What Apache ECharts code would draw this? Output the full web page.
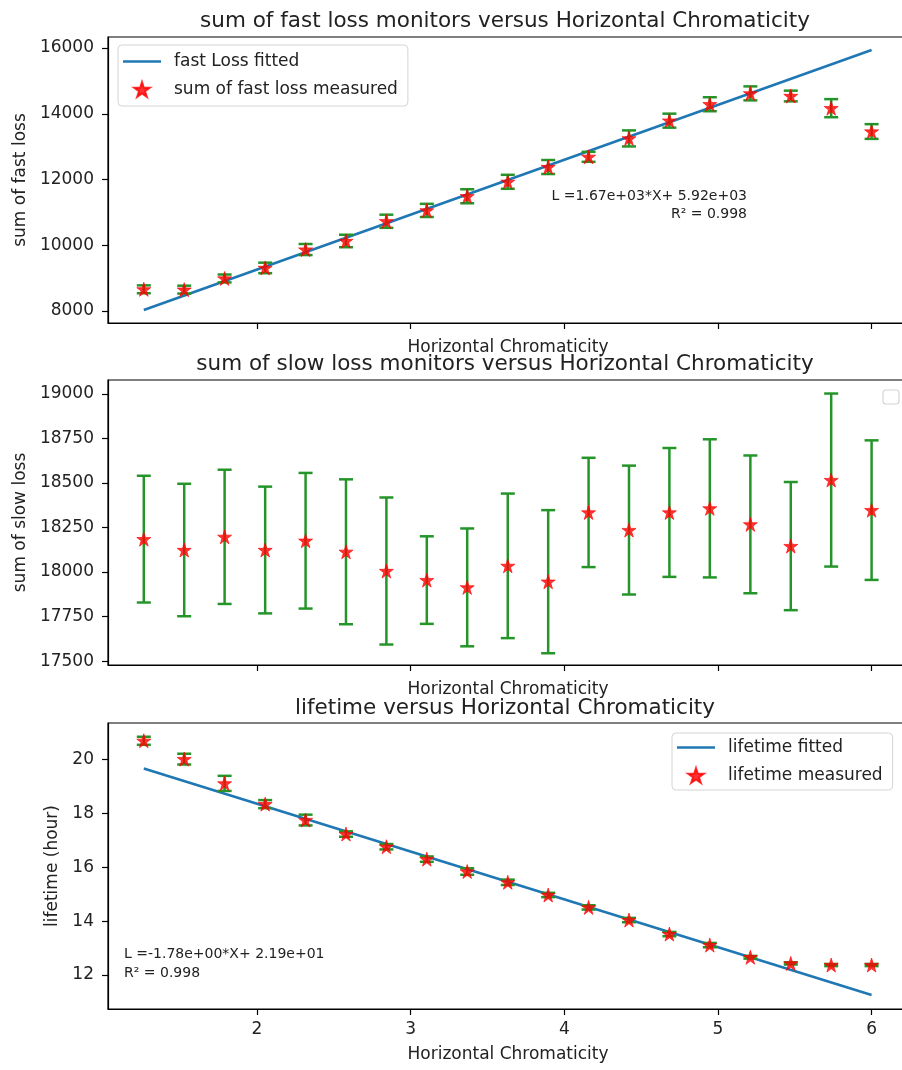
<!DOCTYPE html>
<html><head><meta charset="utf-8">
<script src="https://cdn.jsdelivr.net/npm/echarts@6/dist/echarts.min.js"></script>
<style>html,body{margin:0;padding:0;background:#fff}#c{width:902px;height:1070px}</style>
</head><body><div id="c"></div>
<script>
// ---- data ----
const chroma = [1.263,1.526,1.789,2.053,2.316,2.579,2.842,3.105,3.368,3.632,3.895,4.158,4.421,4.684,4.947,5.211,5.474,5.737,6.0];
const fastLoss    = [8660,8650,8990,9310,9870,10130,10730,11060,11490,11930,12380,12690,13250,13790,14290,14620,14540,14170,13460];
const fastLossErr = [120,120,120,160,168,190,200,200,213,213,213,152,244,213,213,213,163,275,224];
const fastFitEnds = [8030,15940];
const slowLoss    = [18185,18124,18198,18124,18176,18114,18006,17955,17914,18035,17946,18335,18236,18335,18358,18268,18146,18517,18348];
const slowLossErr = [356,372,377,356,381,407,413,246,331,406,402,307,362,362,388,387,360,486,392];
const lifetime    = [20.69,20.01,19.11,18.34,17.75,17.23,16.76,16.30,15.84,15.44,14.97,14.51,14.04,13.52,13.11,12.66,12.43,12.37,12.37];
const lifetimeErr = [0.15,0.2,0.28,0.15,0.2,0.1,0.1,0.1,0.12,0.1,0.08,0.08,0.08,0.08,0.08,0.05,0.04,0.04,0.04];
const lifetimeFitEnds = [19.66,11.26];
const xTicks = [2,3,4,5,6];
const fastTicks = [8000,10000,12000,14000,16000];
const slowTicks = [17500,17750,18000,18250,18500,18750,19000];
const lifeTicks = [12,14,16,18,20];
const titles = ['sum of fast loss monitors versus Horizontal Chromaticity','sum of slow loss monitors versus Horizontal Chromaticity','lifetime versus Horizontal Chromaticity'];
const xName = 'Horizontal Chromaticity';
const yNames = ['sum of fast loss','sum of slow loss','lifetime (hour)'];
const fitText1 = 'L =1.67e+03*X+ 5.92e+03\nR\u00b2 = 0.998';
const fitText3 = 'L =-1.78e+00*X+ 2.19e+01\nR\u00b2 = 0.998';

// ---- styling ----
const FONT = 'DejaVu Sans';
const TXT = '#222';
const BLUE = '#1f77b4';
const GREEN = '#25952a';
const STAR = 'path://M0,-1 L0.2245,-0.309 L0.951,-0.309 L0.363,0.118 L0.588,0.809 L0,0.382 L-0.588,0.809 L-0.363,0.118 L-0.951,-0.309 L-0.2245,-0.309 Z';
const LINEICON = 'path://M0,0 L40,0 L40,2.6 L0,2.6 Z';

const grids = [
  {left:108, top:37, width:800, height:286},
  {left:108, top:380, width:800, height:285},
  {left:108, top:723, width:800, height:286}
].map(g => Object.assign(g, {show:true, borderColor:'#000', borderWidth:1.2, backgroundColor:'transparent', containLabel:false, outerBoundsMode:'none'}));

function xAxis(i, showLabels, gap){
  return {
    type:'value', gridIndex:i, min:1.03, max:6.237,
    axisLine:{show:true, lineStyle:{color:'#000', width:1.2}},
    axisTick:{show:true, customValues:xTicks, length:6, lineStyle:{color:'#000', width:1.2}},
    axisLabel:{show:showLabels, customValues:xTicks, fontFamily:FONT, fontSize:17, color:TXT, margin:12,
      formatter:(v)=>String(v)},
    splitLine:{show:false},
    name:xName, nameLocation:'middle', nameGap:gap,
    nameTextStyle:{fontFamily:FONT, fontSize:17, color:TXT}
  };
}
function yAxis(i, min, max, ticks, name, gap){
  return {
    type:'value', gridIndex:i, min:min, max:max,
    axisLine:{show:true, lineStyle:{color:'#000', width:1.2}},
    axisTick:{show:true, customValues:ticks, length:6, lineStyle:{color:'#000', width:1.2}},
    axisLabel:{customValues:ticks, fontFamily:FONT, fontSize:17, color:TXT, margin:14,
      formatter:(v)=>String(v)},
    splitLine:{show:false},
    name:name, nameLocation:'middle', nameGap:gap,
    nameTextStyle:{fontFamily:FONT, fontSize:17, color:TXT}
  };
}

function errRender(params, api){
  const x = api.value(0), lo = api.value(1), hi = api.value(2);
  const a = api.coord([x, lo]), b = api.coord([x, hi]);
  const cap = 7;
  const st = {stroke:GREEN, lineWidth:2.5};
  return {type:'group', children:[
    {type:'line', shape:{x1:a[0], y1:a[1], x2:b[0], y2:b[1]}, style:st},
    {type:'line', shape:{x1:a[0]-cap, y1:a[1], x2:a[0]+cap, y2:a[1]}, style:st},
    {type:'line', shape:{x1:b[0]-cap, y1:b[1], x2:b[0]+cap, y2:b[1]}, style:st}
  ]};
}

function panelSeries(i, vals, errs, fitEnds, fitName, measName){
  const s = [];
  if (fitEnds) {
    s.push({type:'line', name:fitName, xAxisIndex:i, yAxisIndex:i,
      data:[[chroma[0], fitEnds[0]], [chroma[chroma.length-1], fitEnds[1]]],
      showSymbol:false, symbol:'none', color:BLUE, lineStyle:{color:BLUE, width:2.6}, z:2});
  }
  s.push({type:'custom', name:measName + ' error', xAxisIndex:i, yAxisIndex:i,
    renderItem:errRender, encode:{x:0, y:[1,2]}, silent:true, z:3,
    data: chroma.map((x,k)=>[x, vals[k]-errs[k], vals[k]+errs[k]])});
  s.push({type:'scatter', name:measName, xAxisIndex:i, yAxisIndex:i,
    data: chroma.map((x,k)=>[x, vals[k]]), symbol:STAR, symbolSize:14,
    itemStyle:{color:'#ff0000', borderColor:'#ff0000', borderWidth:0.8}, z:4});
  return s;
}

const legendBase = {
  orient:'vertical', backgroundColor:'rgba(255,255,255,0.85)', borderColor:'#d4d4d4', borderWidth:1, borderRadius:4,
  itemWidth:38, itemHeight:15, itemGap:11,
  textStyle:{fontFamily:FONT, fontSize:17, color:TXT, padding:[0,0,0,8]}
};

const option = {
  animation:false,
  backgroundColor:'#fff',
  title: titles.map((t,i)=>({text:t, left:505, textAlign:'center', top:[10,353,697][i], padding:0,
    textStyle:{fontFamily:FONT, fontSize:21.5, fontWeight:'normal', color:TXT}})),
  grid: grids,
  xAxis:[xAxis(0,false,16), xAxis(1,false,16), xAxis(2,true,37)],
  yAxis:[
    yAxis(0, 7635, 16335, fastTicks, yNames[0], 73),
    yAxis(1, 17478, 19079, slowTicks, yNames[1], 73),
    yAxis(2, 10.74, 21.35, lifeTicks, yNames[2], 41)
  ],
  legend:[
    Object.assign({}, legendBase, {left:118, top:45, padding:[8,10,8,5],
      data:[{name:'fast Loss fitted', icon:LINEICON}, {name:'sum of fast loss measured', icon:STAR}]}),
    Object.assign({}, legendBase, {left:672, top:733, padding:[6,10,6,5],
      data:[{name:'lifetime fitted', icon:LINEICON}, {name:'lifetime measured', icon:STAR}]})
  ],
  series:[].concat(
    panelSeries(0, fastLoss, fastLossErr, fastFitEnds, 'fast Loss fitted', 'sum of fast loss measured'),
    panelSeries(1, slowLoss, slowLossErr, null, '', 'sum of slow loss measured'),
    panelSeries(2, lifetime, lifetimeErr, lifetimeFitEnds, 'lifetime fitted', 'lifetime measured')
  ),
  graphic:[
    {type:'text', x:747, y:187, z:10, style:{text:fitText1, align:'right', verticalAlign:'top', font:'14px "DejaVu Sans"', fill:TXT, lineHeight:18}},
    {type:'text', x:124, y:945, z:10, style:{text:fitText3, align:'left', verticalAlign:'top', font:'14px "DejaVu Sans"', fill:TXT, lineHeight:19}},
    {type:'rect', shape:{x:883, y:390, width:16, height:14, r:3}, z:10, style:{fill:'#fff', stroke:'#d4d4d4', lineWidth:1.2}}
  ]
};
const chart = echarts.init(document.getElementById('c'));
chart.setOption(option);
</script></body></html>
